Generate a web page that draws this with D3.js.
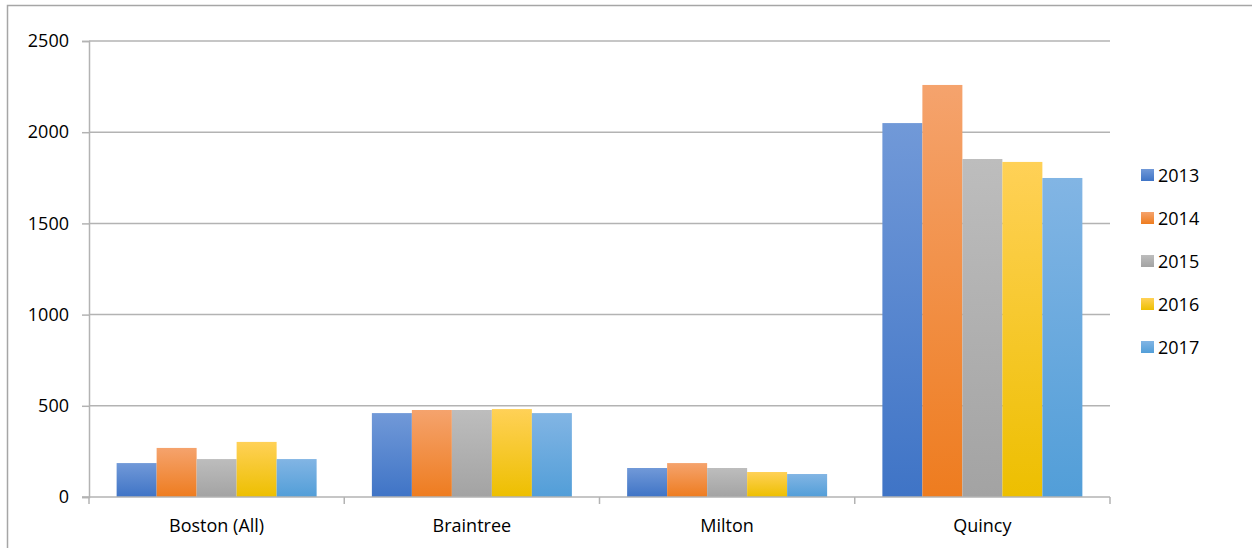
<!DOCTYPE html>
<html>
<head>
<meta charset="utf-8">
<script src="https://cdn.jsdelivr.net/npm/d3@7"></script>
<style>
  html, body { margin: 0; padding: 0; background: #fff; }
  svg { display: block; font-family: "Open Sans", Lato, sans-serif; }
</style>
</head>
<body>
<svg id="chart" width="1252" height="548"></svg>
<script>
// Categories and yearly series
const categories = ["Boston (All)", "Braintree", "Milton", "Quincy"];
const years = ["2013", "2014", "2015", "2016", "2017"];
const values2013 = [186, 460, 159, 2050];
const values2014 = [269, 477, 186, 2259];
const values2015 = [208, 477, 159, 1853];
const values2016 = [302, 482, 137, 1837];
const values2017 = [208, 460, 126, 1749];
const yTicks = [0, 500, 1000, 1500, 2000, 2500];

// Gradient stops per series (light top, darker bottom)
const colorTop = ["#7199d8", "#f5a36d", "#bdbdbd", "#ffd157", "#82b5e4"];
const colorBottom = ["#3f74c6", "#ee7c1f", "#a3a3a3", "#edbf00", "#529ed8"];

const seriesValues = [values2013, values2014, values2015, values2016, values2017];

const FONT = "'Open Sans', Lato, sans-serif";
const FS = 18;

const svg = d3.select("#chart");
const plot = { left: 89, right: 1110, top: 41, bottom: 497 };

// Gradients
const defs = svg.append("defs");
years.forEach((yr, i) => {
  const g = defs.append("linearGradient")
    .attr("id", "grad" + yr)
    .attr("x1", 0).attr("y1", 0).attr("x2", 0).attr("y2", 1);
  g.append("stop").attr("offset", "0%").attr("stop-color", colorTop[i]);
  g.append("stop").attr("offset", "100%").attr("stop-color", colorBottom[i]);
});

// Outer chart frame
svg.append("path")
  .attr("d", "M7.5,548 V5.5 H1252")
  .attr("fill", "none")
  .attr("stroke", "#a6a6a6")
  .attr("stroke-width", 1.5);

const y = d3.scaleLinear().domain([0, 2500]).range([plot.bottom, plot.top]);
const x0 = d3.scaleBand().domain(categories)
  .range([plot.left, plot.right])
  .paddingInner(0.2165).paddingOuter(0.10825);
const x1 = d3.scaleBand().domain(years).range([0, x0.bandwidth()]).padding(0);

// Gridlines
svg.append("g").selectAll("line").data(yTicks.filter(d => d > 0)).join("line")
  .attr("x1", plot.left).attr("x2", plot.right)
  .attr("y1", d => y(d)).attr("y2", d => y(d))
  .attr("stroke", "#b3b3b3").attr("stroke-width", 1.5);

// Bars
const groups = svg.append("g").selectAll("g").data(categories).join("g")
  .attr("transform", d => `translate(${x0(d)},0)`);
groups.selectAll("rect")
  .data((c, ci) => years.map((yr, si) => ({ yr, v: seriesValues[si][ci] })))
  .join("rect")
  .attr("x", d => x1(d.yr))
  .attr("width", x1.bandwidth())
  .attr("y", d => y(d.v))
  .attr("height", d => y(0) - y(d.v))
  .attr("fill", d => `url(#grad${d.yr})`);

// Y axis
const yAxis = d3.axisLeft(y).tickValues(yTicks).tickFormat(d3.format("d"))
  .tickSize(7).tickPadding(13);
const gy = svg.append("g").attr("transform", `translate(${plot.left},0)`).call(yAxis);
gy.select(".domain").attr("stroke", "#b3b3b3").attr("stroke-width", 1.5);
gy.selectAll(".tick line").attr("stroke", "#b3b3b3").attr("stroke-width", 1.5);
gy.selectAll(".tick text").attr("font-size", FS).attr("fill", "#000")
  .attr("font-family", FONT);

// X axis: baseline, boundary ticks, category labels
const xLine = svg.append("g");
xLine.append("line")
  .attr("x1", plot.left - 7).attr("x2", plot.right)
  .attr("y1", y(0)).attr("y2", y(0))
  .attr("stroke", "#b3b3b3").attr("stroke-width", 1.5);
const step = x0.step();
const bounds = categories.map(c => x0(c) - step * x0.paddingOuter()).concat([plot.right]);
xLine.selectAll("line.b").data(bounds).join("line").attr("class", "b")
  .attr("x1", d => d).attr("x2", d => d)
  .attr("y1", y(0)).attr("y2", y(0) + 7)
  .attr("stroke", "#b3b3b3").attr("stroke-width", 1.5);
xLine.selectAll("text").data(categories).join("text")
  .attr("x", d => x0(d) + x0.bandwidth() / 2)
  .attr("y", 532)
  .attr("text-anchor", "middle")
  .attr("font-size", FS).attr("fill", "#000")
  .text(d => d);

// Legend
const legend = svg.append("g");
const rows = legend.selectAll("g").data(years).join("g")
  .attr("transform", (d, i) => `translate(1141,${175 + i * 43})`);
rows.append("rect")
  .attr("x", 0).attr("y", -6).attr("width", 13).attr("height", 12)
  .attr("fill", d => `url(#grad${d})`);
rows.append("text")
  .attr("x", 17).attr("y", 6.5)
  .attr("font-size", FS).attr("fill", "#000")
  .text(d => d);
</script>
</body>
</html>
